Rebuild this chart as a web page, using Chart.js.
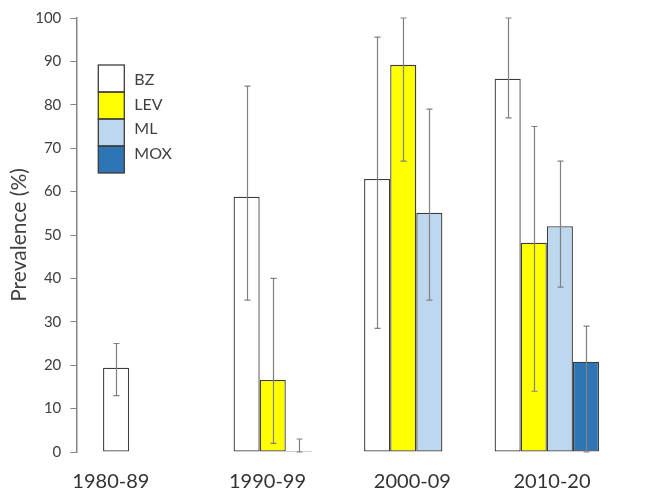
<!DOCTYPE html>
<html>
<head>
<meta charset="utf-8">
<script src="https://cdn.jsdelivr.net/npm/chart.js@4"></script>
<style>
  html, body { margin: 0; padding: 0; background: #fff; }
  #wrap { width: 650px; height: 493px; }
</style>
</head>
<body>
<div id="wrap"><canvas id="prevChart"></canvas></div>
<script>
// categories / series
const decades = ['1980-89', '1990-99', '2000-09', '2010-20'];
const drugs = ['BZ', 'LEV', 'ML', 'MOX'];

const bzValues  = [19.4, 58.8, 62.9, 86];
const levValues = [null, 16.6, 89.2, 48.2];
const mlValues  = [null, 0, 55.1, 52];
const moxValues = [null, null, null, 20.8];

// error bars (low / high)
const bzLow   = [13, 35, 28.5, 77];
const bzHigh  = [25, 84.3, 95.6, 100];
const levLow  = [null, 2, 67, 14];
const levHigh = [null, 40, 100, 75];
const mlLow   = [null, 0, 35, 38];
const mlHigh  = [null, 3, 79, 67];
const moxLow  = [null, null, null, 0];
const moxHigh = [null, null, null, 29];

// y axis ticks
const yMin = 0, yMax = 100, yStep = 10;

const colors = ['#ffffff', '#ffff00', '#bdd7ee', '#2e75b6'];
const edge = '#3c3c3c';
Chart.defaults.font.family = 'Lato';

function toPoints(vals) {
    const pts = [];
    vals.forEach((v, i) => { if (v !== null) pts.push({ x: i, y: v }); });
    return pts;
}

const series = [bzValues, levValues, mlValues, moxValues];
const lows = [bzLow, levLow, mlLow, moxLow];
const highs = [bzHigh, levHigh, mlHigh, moxHigh];

const datasets = series.map((vals, k) => ({
    label: drugs[k],
    data: toPoints(vals),
    errLow: lows[k],
    errHigh: highs[k],
    backgroundColor: colors[k],
    borderColor: edge,
    borderWidth: 1.3,
    borderSkipped: false,
    minBarLength: 1,
    categoryPercentage: 0.8,
    barPercentage: 1
}));

const errorBars = {
    id: 'errorBars',
    afterDatasetsDraw(chart) {
        const ctx = chart.ctx;
        const y = chart.scales.y;
        ctx.save();
        ctx.strokeStyle = '#808080';
        ctx.lineWidth = 1.2;
        chart.data.datasets.forEach((ds, d) => {
            const meta = chart.getDatasetMeta(d);
            meta.data.forEach((bar, j) => {
                const i = ds.data[j].x;
                const lo = ds.errLow[i], hi = ds.errHigh[i];
                if (lo === null || hi === null) return;
                const x = Math.round(bar.x) + 0.5;
                const yl = y.getPixelForValue(lo), yh = y.getPixelForValue(hi);
                ctx.beginPath();
                ctx.moveTo(x, yl); ctx.lineTo(x, yh);
                ctx.moveTo(x - 3, yl); ctx.lineTo(x + 3, yl);
                ctx.moveTo(x - 3, yh); ctx.lineTo(x + 3, yh);
                ctx.stroke();
            });
        });
        ctx.restore();
    }
};

// legend drawn inside the plot, boxes stacked without gaps
const boxLegend = {
    id: 'boxLegend',
    afterDraw(chart) {
        const ctx = chart.ctx;
        const a = chart.chartArea;
        const bx = a.left + 22, by = a.top + 47, bw = 26, bh = 27;
        ctx.save();
        chart.data.datasets.forEach((ds, k) => {
            ctx.fillStyle = ds.backgroundColor;
            ctx.fillRect(bx, by + k * bh, bw, bh);
        });
        ctx.strokeStyle = edge;
        ctx.lineWidth = 1.3;
        chart.data.datasets.forEach((ds, k) => {
            ctx.strokeRect(bx, by + k * bh, bw, bh);
        });
        ctx.fillStyle = '#404040';
        ctx.font = '16px Lato';
        ctx.textBaseline = 'middle';
        chart.data.datasets.forEach((ds, k) => {
            ctx.fillText(ds.label, bx + 36, by + 15 + k * 24.5);
        });
        ctx.restore();
    }
};

new Chart(document.getElementById('prevChart'), {
    type: 'bar',
    data: { datasets: datasets },
    plugins: [errorBars, boxLegend],
    options: {
        responsive: true,
        maintainAspectRatio: false,
        animation: false,
        layout: { padding: { left: 0, top: 15, right: 10, bottom: -11 } },
        plugins: {
            legend: { display: false },
            tooltip: { enabled: false }
        },
        scales: {
            x: {
                type: 'linear',
                offset: false,
                min: -0.605,
                max: 3.714,
                grid: { display: false },
                border: { display: false },
                // the decade labels sit a little left of each bar group, as in the figure
                afterBuildTicks: axis => {
                    axis.ticks = [-0.34, 0.86, 1.97, 3.04].map(v => ({ value: v }));
                },
                ticks: {
                    callback: (v, i) => decades[i],
                    padding: 7,
                    maxRotation: 0,
                    autoSkip: false,
                    color: '#333',
                    font: { size: 20, lineHeight: 1.5 }
                }
            },
            y: {
                min: yMin,
                max: yMax,
                ticks: {
                    stepSize: yStep,
                    padding: 9,
                    color: '#404040',
                    font: { size: 15 }
                },
                grid: { drawOnChartArea: false, drawTicks: true, tickLength: 6, color: '#868686' },
                border: { display: true, color: '#868686', width: 1.5 },
                title: {
                    display: true,
                    text: 'Prevalence (%)',
                    color: '#404040',
                    font: { size: 21 },
                    padding: { top: 7, bottom: -6 }
                }
            }
        }
    }
});
</script>
</body>
</html>
